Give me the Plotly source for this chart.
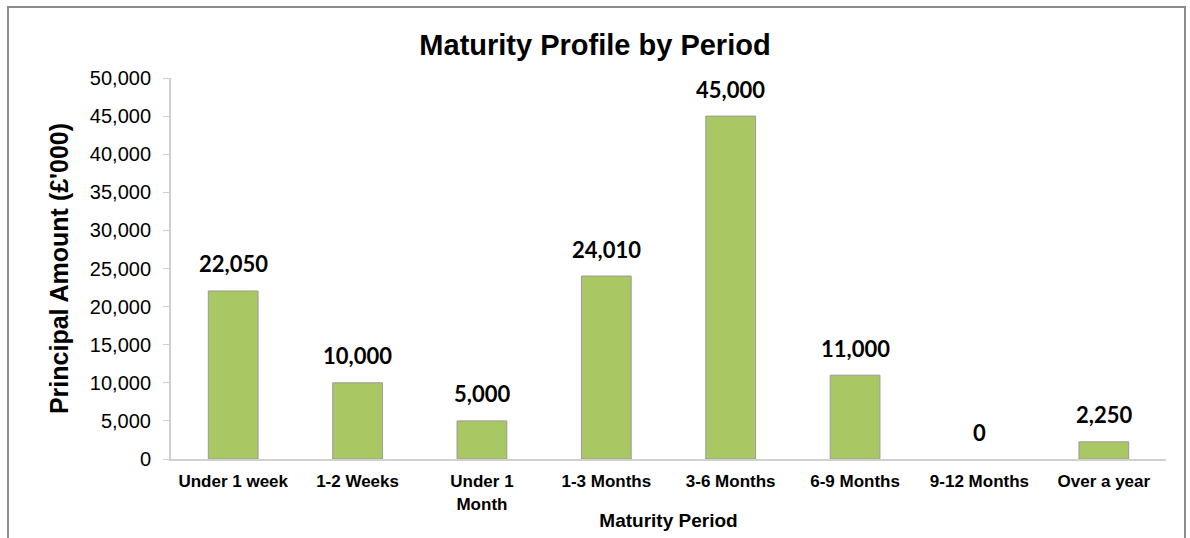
import plotly.graph_objects as go

categories = ["Under 1 week", "1-2 Weeks", "Under 1<br>Month", "1-3 Months",
              "3-6 Months", "6-9 Months", "9-12 Months", "Over a year"]
values = [22050, 10000, 5000, 24010, 45000, 11000, 0, 2250]
y_ticks = [0, 5000, 10000, 15000, 20000, 25000, 30000, 35000, 40000, 45000, 50000]

fig = go.Figure()
fig.add_trace(go.Bar(
    x=categories, y=values,
    marker=dict(color="#A9C763",
                line=dict(color="#9A9A9A", width=[1 if v > 0 else 0 for v in values])),
    width=0.4,
    hoverinfo="x+y",
))

for c, v in zip(categories, values):
    fig.add_annotation(x=c, y=v, text=f"{v:,}", showarrow=False,
                       yanchor="middle", yshift=27,
                       font=dict(family="Lato", size=22, color="#000000", weight="bold"))

fig.update_layout(
    width=1190, height=538,
    paper_bgcolor="white", plot_bgcolor="white",
    margin=dict(l=171, r=24, t=78, b=79, autoexpand=False),
    showlegend=False,
    title=dict(text="<b>Maturity Profile by Period</b>", x=0.5, xanchor="center",
               y=1 - 45 / 538, yanchor="middle",
               font=dict(family="Liberation Sans", size=29, color="#000000")),
    xaxis=dict(
        automargin=False,
        showline=True, linecolor="#D0D0D0", linewidth=2,
        ticks="", showgrid=False, ticklabelstandoff=6,
        tickfont=dict(family="Liberation Sans", size=17, color="#000000", weight="bold"),
        title=dict(text="<b>Maturity Period</b>", standoff=1,
                   font=dict(family="Liberation Sans", size=19, color="#000000")),
    ),
    yaxis=dict(
        automargin=False,
        range=[0, 50000], tickvals=y_ticks, tickformat=",",
        showline=True, linecolor="#D0D0D0", linewidth=2,
        ticks="outside", ticklen=6, tickcolor="#D0D0D0", tickwidth=1,
        ticklabelstandoff=8,
        showgrid=False, zeroline=False,
        tickfont=dict(family="Liberation Sans", size=20, color="#000000"),
        title=dict(text="<b>Principal Amount (£'000)</b>", standoff=14,
                   font=dict(family="Liberation Sans", size=25, color="#000000")),
    ),
    shapes=[dict(type="rect", xref="paper", yref="paper",
                 x0=(8 - 171) / 995, x1=(1185 - 171) / 995,
                 y0=-0.4, y1=1 + (78 - 7) / 381,
                 line=dict(color="#8C8C8C", width=2), layer="below")],
)

fig.write_html("out.html", config={"displayModeBar": False},
               post_script="document.body.style.margin='0';")
